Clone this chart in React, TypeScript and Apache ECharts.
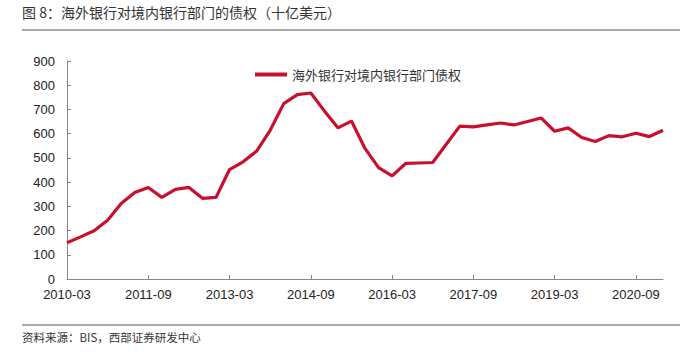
import React, { useEffect, useRef } from "react";
import * as echarts from "echarts";

const categories: string[] = [
  "2010-03", "2010-06", "2010-09", "2010-12",
  "2011-03", "2011-06", "2011-09", "2011-12",
  "2012-03", "2012-06", "2012-09", "2012-12",
  "2013-03", "2013-06", "2013-09", "2013-12",
  "2014-03", "2014-06", "2014-09", "2014-12",
  "2015-03", "2015-06", "2015-09", "2015-12",
  "2016-03", "2016-06", "2016-09", "2016-12",
  "2017-03", "2017-06", "2017-09", "2017-12",
  "2018-03", "2018-06", "2018-09", "2018-12",
  "2019-03", "2019-06", "2019-09", "2019-12",
  "2020-03", "2020-06", "2020-09", "2020-12",
  "2021-03",
];

const claims: number[] = [
  150, 174, 199, 243,
  312, 357, 378, 337,
  370, 378, 333, 337,
  452, 484, 528, 614,
  724, 761, 768, 694,
  624, 652, 539, 460,
  426, 477, 479, 481,
  556, 631, 628, 636,
  644, 636, 650, 665,
  610, 624, 584, 568,
  592, 587, 602, 588,
  614,
];

const seriesName = "海外银行对境内银行部门债权";
const titleText = "图 8：海外银行对境内银行部门的债权（十亿美元）";
const sourceText = "资料来源：BIS，西部证券研发中心";
const yTicks = { min: 0, max: 900, interval: 100 };

export default function App() {
  const ref = useRef<HTMLDivElement>(null);
  useEffect(() => {
    if (!ref.current) return;
    const chart = echarts.init(ref.current, undefined, { renderer: "svg" });
    const cjk = "'Noto Sans CJK SC', sans-serif";
    chart.setOption({
      animation: false,
      backgroundColor: "#fff",
      grid: { left: 67, right: 20, top: 61, bottom: 78, containLabel: false },
      legend: {
        data: [seriesName],
        left: 250,
        top: 63,
        itemWidth: 32,
        itemHeight: 4,
        itemGap: 3,
        icon: "rect",
        textStyle: { fontFamily: cjk, fontSize: 13, color: "#333" },
      },
      xAxis: {
        type: "category",
        data: categories,
        boundaryGap: false,
        axisLine: { lineStyle: { color: "#888", width: 1 } },
        axisTick: { inside: true, length: 4, interval: 5, lineStyle: { color: "#888" } },
        axisLabel: {
          interval: 5,
          color: "#222",
          fontSize: 13,
          fontFamily: "'Liberation Sans', Arial, sans-serif",
          margin: 9,
        },
        splitLine: { show: false },
      },
      yAxis: {
        type: "value",
        min: yTicks.min,
        max: yTicks.max,
        interval: yTicks.interval,
        axisLine: { show: true, lineStyle: { color: "#888", width: 1 } },
        axisTick: { show: true, inside: true, length: 4, lineStyle: { color: "#888" } },
        axisLabel: {
          color: "#222",
          fontSize: 13,
          fontFamily: "'Liberation Sans', Arial, sans-serif",
          margin: 12,
        },
        splitLine: { show: false },
      },
      series: [
        {
          name: seriesName,
          type: "line",
          data: claims,
          symbol: "none",
          lineStyle: { color: "#C8102E", width: 3.2 },
          itemStyle: { color: "#C8102E" },
        },
      ],
      graphic: [
        {
          type: "text",
          left: 22,
          top: 5,
          style: { text: titleText, fontFamily: cjk, fontSize: 14, fill: "#333" },
        },
        {
          type: "line",
          shape: { x1: 22, y1: 30, x2: 680, y2: 30 },
          style: { stroke: "#555", lineWidth: 1.2 },
        },
        {
          type: "line",
          shape: { x1: 22, y1: 325, x2: 680, y2: 325 },
          style: { stroke: "#555", lineWidth: 1.2 },
        },
        {
          type: "text",
          left: 22,
          top: 331,
          style: { text: sourceText, fontFamily: cjk, fontSize: 11.5, fill: "#333" },
        },
      ],
    });
    return () => chart.dispose();
  }, []);
  return <div ref={ref} style={{ width: 683, height: 357, position: "absolute", left: 0, top: 0 }} />;
}
